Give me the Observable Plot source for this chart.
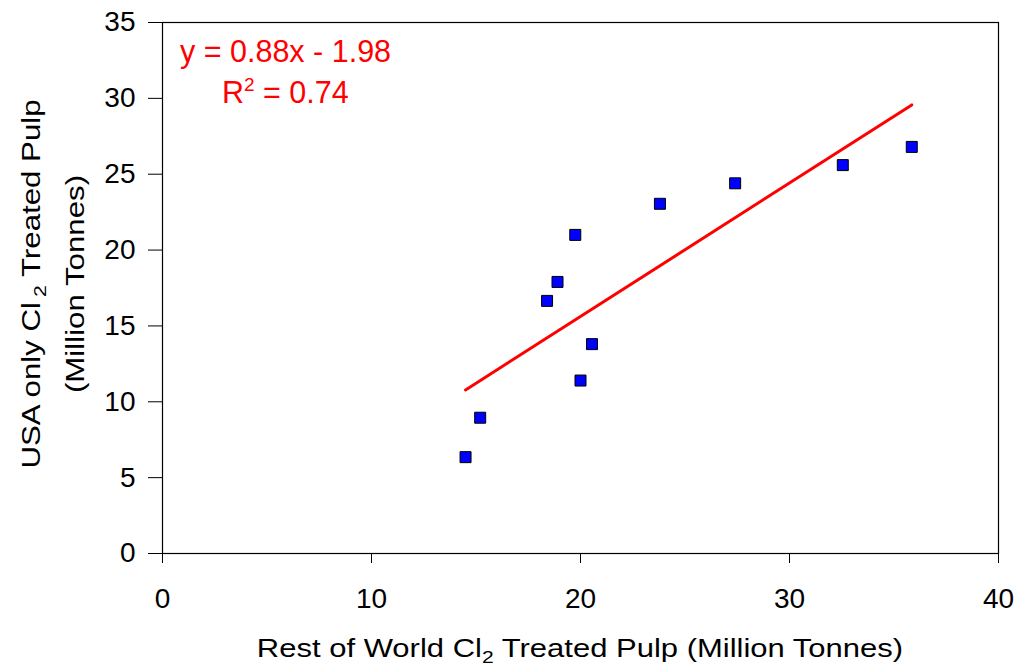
<!DOCTYPE html>
<html><head><meta charset="utf-8">
<script src="https://cdn.jsdelivr.net/npm/d3@7"></script>
<script src="https://cdn.jsdelivr.net/npm/@observablehq/plot@0.6"></script>
<style>body{margin:0;background:#fff}svg{font-family:"Liberation Sans",Arial,sans-serif}</style>
</head><body><div id="chart"></div>
<script>
const restOfWorld = [14.5, 15.2, 18.4, 18.9, 19.75, 20.0, 20.55, 23.8, 27.4, 32.55, 35.85];
const usaOnly     = [6.35, 8.95, 16.65, 17.9, 21.0, 11.4, 13.8, 23.05, 24.4, 25.6, 26.8];
const slope = 0.88, intercept = -1.98, rSquared = 0.74;
const xTicks = [0, 10, 20, 30, 40];
const yTicks = [0, 5, 10, 15, 20, 25, 30, 35];

const pts = restOfWorld.map((x, i) => ({x, y: usaOnly[i]}));
const xExt = d3.extent(restOfWorld);
const fit = xExt.map(x => ({x, y: slope * x + intercept}));

const W = 1019, H = 670, mL = 162, mR = 21, mT = 22, mB = 117;
const plot = Plot.plot({
  width: W, height: H,
  marginLeft: mL, marginRight: mR, marginTop: mT, marginBottom: mB,
  style: {fontFamily: '"Liberation Sans", Arial, sans-serif', background: "#fff", color: "#000"},
  x: {domain: [0, 40]},
  y: {domain: [0, 35]},
  marks: [
    Plot.frame({stroke: "#000", strokeWidth: 1.2}),
    Plot.axisX({ticks: xTicks, tickSize: 10, tickPadding: 25, fontSize: 28, label: null}),
    Plot.axisY({ticks: yTicks, tickSize: 14, tickPadding: 13, fontSize: 28, label: null}),
    Plot.line(fit, {x: "x", y: "y", stroke: "#ff0000", strokeWidth: 3}),
    Plot.dot(pts, {x: "x", y: "y", symbol: "square", r: 6.2, fill: "#0000ff", stroke: "#000", strokeWidth: 1})
  ]
});
document.getElementById("chart").appendChild(plot);

const svg = d3.select(plot);
// x-axis title
const xt = svg.append("g").attr("transform", `translate(${(mL + W - mR) / 2},657) scale(1.24,1)`)
  .append("text").attr("text-anchor", "middle").attr("font-size", 25).attr("fill", "#000");
xt.append("tspan").text("Rest of World Cl");
xt.append("tspan").attr("font-size", 17).attr("dy", 6).text("2");
xt.append("tspan").attr("dy", -6).text(" Treated Pulp (Million Tonnes)");
// y-axis title (two lines)
const cy = 284;
const yt = svg.append("g").attr("transform", `translate(40,${cy}) rotate(-90) scale(1.25,1)`)
  .append("text").attr("text-anchor", "middle").attr("font-size", 25).attr("fill", "#000");
yt.append("tspan").text("USA only Cl");
yt.append("tspan").attr("font-size", 17).attr("dx", 4).attr("dy", 6).text("2");
yt.append("tspan").attr("dy", -6).text(" Treated Pulp");
svg.append("g").attr("transform", `translate(84,${cy}) rotate(-90) scale(1.25,1)`)
  .append("text").attr("text-anchor", "middle").attr("font-size", 25).attr("fill", "#000").text("(Million Tonnes)");
// equation
const fmt = v => v.toFixed(2);
svg.append("text").attr("x", 180).attr("y", 62).attr("text-anchor", "start").attr("font-size", 30.5).attr("fill", "#ff0000")
  .text(`y = ${fmt(slope)}x ${intercept < 0 ? "-" : "+"} ${fmt(Math.abs(intercept))}`);
const r2 = svg.append("text").attr("x", 222).attr("y", 103).attr("text-anchor", "start").attr("font-size", 30.5).attr("fill", "#ff0000");
r2.append("tspan").text("R");
r2.append("tspan").attr("font-size", 19).attr("dy", -12).text("2");
r2.append("tspan").attr("dy", 12).text(` = ${fmt(rSquared)}`);
</script></body></html>
